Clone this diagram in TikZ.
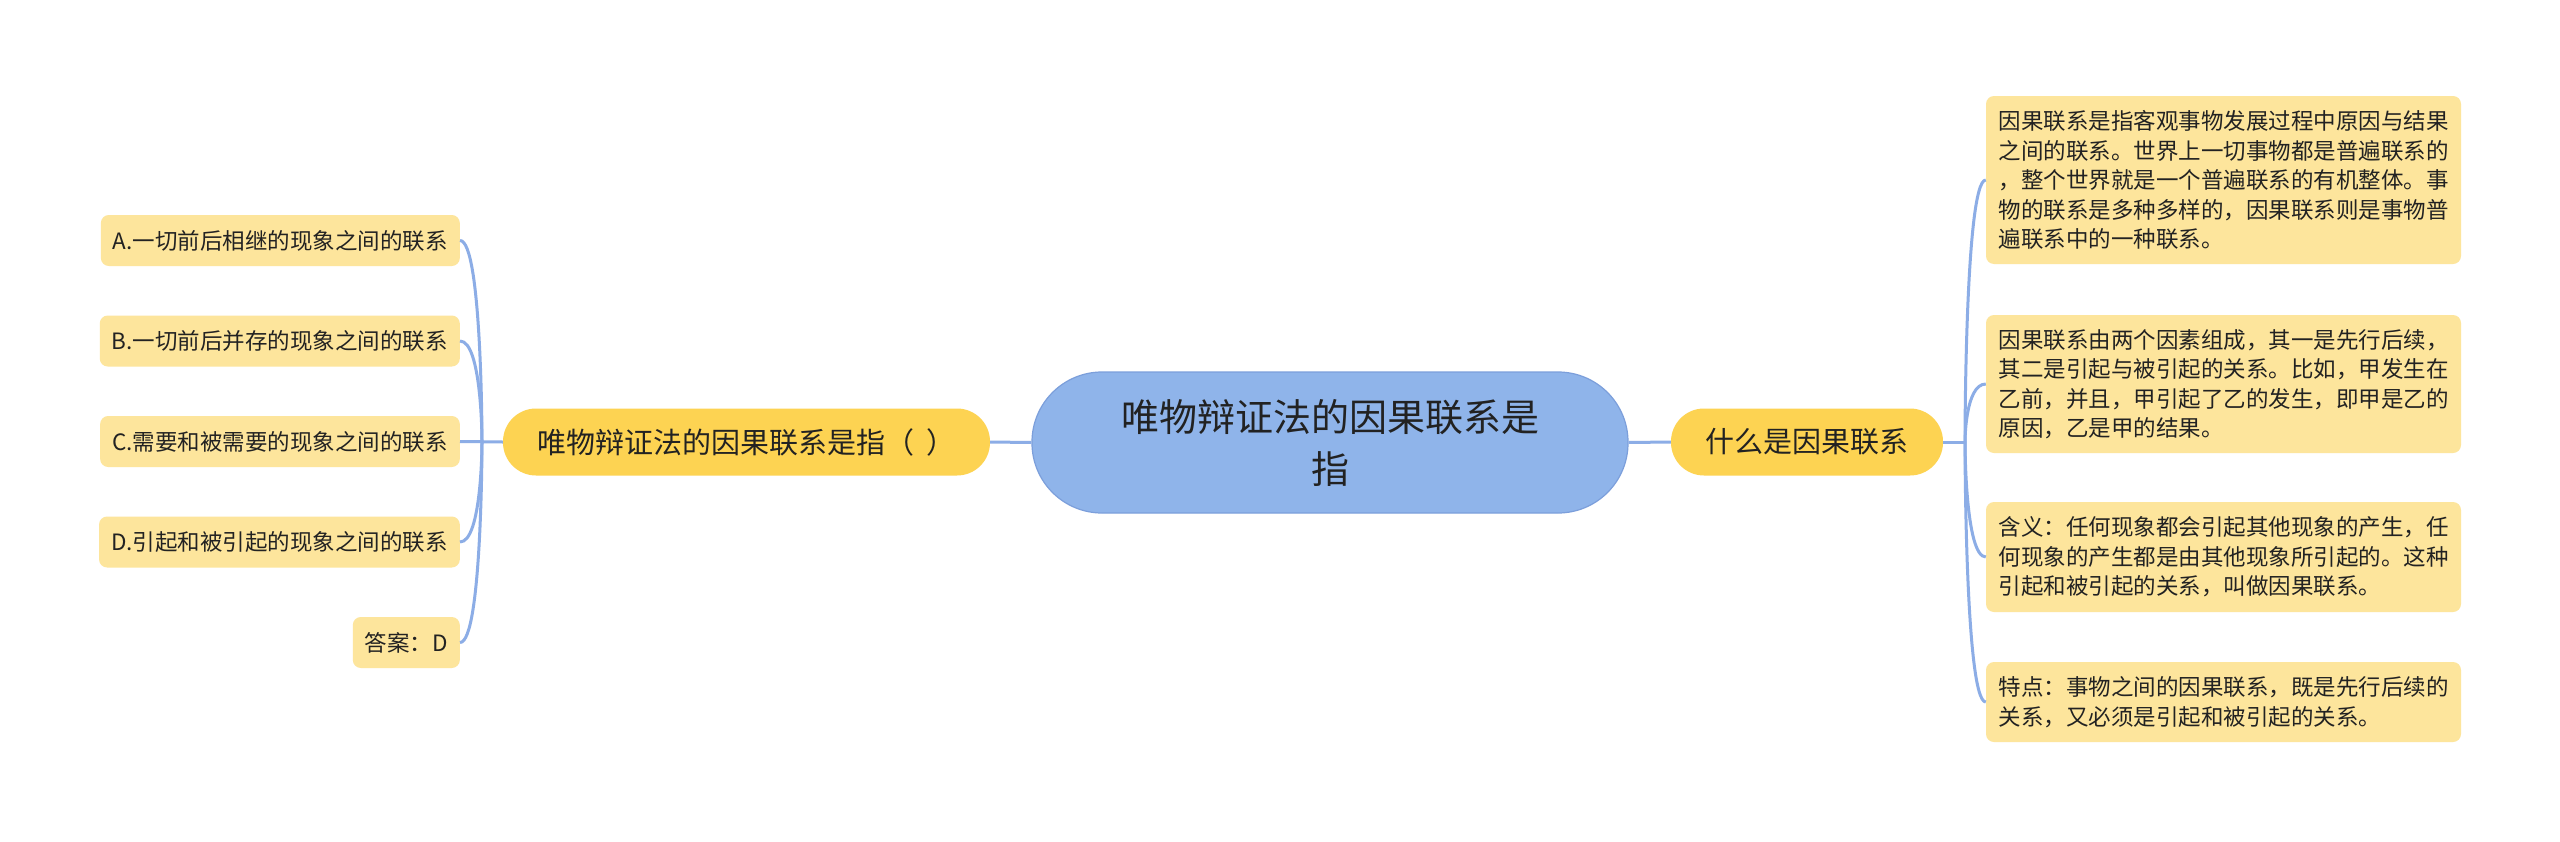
\documentclass[tikz,border=0pt]{standalone}
\usepackage{fontspec}
\setmainfont{Noto Sans CJK SC}
\usetikzlibrary{calc}
\definecolor{linkblue}{HTML}{8CADE6}
\definecolor{centerfill}{HTML}{8FB4EA}
\definecolor{centerdraw}{HTML}{7C9FDB}
\definecolor{mainfill}{HTML}{FDD352}
\definecolor{leaffill}{HTML}{FDE59C}
\definecolor{txt}{HTML}{222222}
\begin{document}
\begin{tikzpicture}[x=1pt,y=-1pt,
  link/.style={draw=linkblue, line width=3pt},
  centerbox/.style={fill=centerfill, draw=centerdraw, line width=1.2pt, rounded corners=70pt, minimum width=596pt, minimum height=141pt, align=center, text=txt, font=\fontsize{38}{52}\selectfont, inner sep=0pt},
  mainbox/.style={fill=mainfill, rounded corners=33pt, minimum height=67pt, inner sep=0pt, text=txt, font=\fontsize{29}{35}\selectfont},
  leafl/.style={fill=leaffill, rounded corners=8pt, minimum height=51pt, inner xsep=12pt, inner ysep=0pt, anchor=east, text=txt, font=\fontsize{22.5}{27}\selectfont},
  leafr/.style={fill=leaffill, rounded corners=8pt, minimum width=475pt, inner sep=0pt, align=left, text=txt, font=\fontsize{22.5}{29.5}\selectfont}
]
\fill[white] (0,0) rectangle (2560,841);
\useasboundingbox (0,0) rectangle (2560,841);

\node[centerbox] (c) at (1330,442.5) {唯物辩证法的因果联系是\\指};
\node[mainbox, minimum width=487pt] (lm) at (746.5,442) {唯物辩证法的因果联系是指（\hspace{12pt}）};
\node[mainbox, minimum width=272pt] (rm) at (1807,442) {什么是因果联系};

\coordinate (lh) at (482,442);
\coordinate (rh) at (1965,442);

\node[leafl] (a) at (460,240.5) {A.一切前后相继的现象之间的联系};
\node[leafl] (b) at (460,341) {B.一切前后并存的现象之间的联系};
\node[leafl] (cc) at (460,441.5) {C.需要和被需要的现象之间的联系};
\node[leafl] (d) at (460,542) {D.引起和被引起的现象之间的联系};
\node[leafl] (ans) at (460,642.5) {答案：D};

\node[leafr, minimum height=168pt] (r1) at (2223.5,180) {因果联系是指客观事物发展过程中原因与结果\\之间的联系。世界上一切事物都是普遍联系的\\，整个世界就是一个普遍联系的有机整体。事\\物的联系是多种多样的，因果联系则是事物普\\遍联系中的一种联系。};
\node[leafr, minimum height=138pt] (r2) at (2223.5,384) {因果联系由两个因素组成，其一是先行后续，\\其二是引起与被引起的关系。比如，甲发生在\\乙前，并且，甲引起了乙的发生，即甲是乙的\\原因，乙是甲的结果。};
\node[leafr, minimum height=110pt] (r3) at (2223.5,557) {含义：任何现象都会引起其他现象的产生，任\\何现象的产生都是由其他现象所引起的。这种\\引起和被引起的关系，叫做因果联系。};
\node[leafr, minimum height=80pt] (r4) at (2223.5,702) {特点：事物之间的因果联系，既是先行后续的\\关系，又必须是引起和被引起的关系。};

\draw[link] (c.west) -- (lm.east);
\draw[link] (c.east) -- (rm.west);
\draw[link] (lm.west) -- (cc.east);
\foreach \n in {a,b,d,ans}
  \draw[link] (\n.east) .. controls (lh |- \n.east) and (lh) .. (lh);
\draw[link] (rm.east) -- (rh);
\foreach \n in {r1,r2,r3,r4}
  \draw[link] (rh) .. controls (rh) and (rh |- \n.west) .. (\n.west);
\end{tikzpicture}
\end{document}
